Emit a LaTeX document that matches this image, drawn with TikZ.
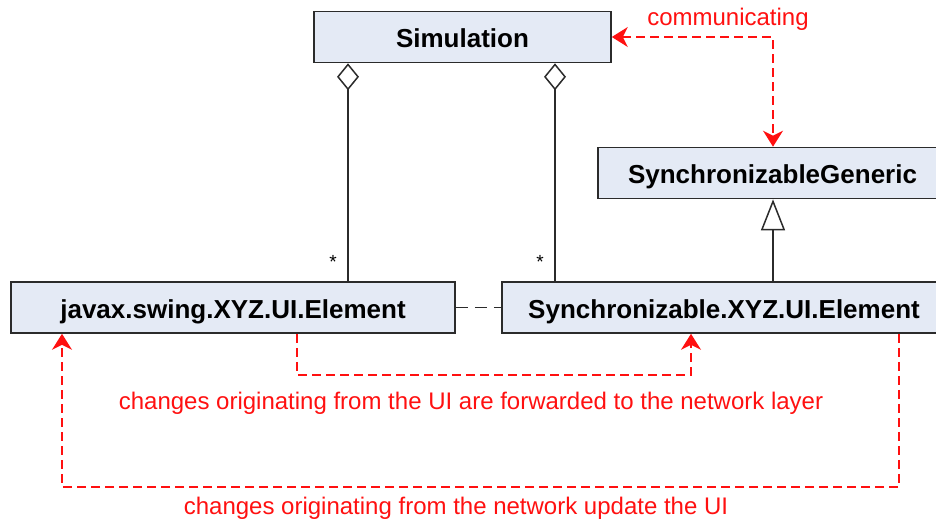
\documentclass[tikz,border=0pt]{standalone}
\usepackage{fontspec}
\setmainfont{Liberation Sans}
\usetikzlibrary{arrows.meta}

\definecolor{boxfill}{HTML}{E4EAF5}
\definecolor{boxline}{HTML}{2B2B2B}
\definecolor{flow}{HTML}{FF1010}

\begin{document}
\begin{tikzpicture}[x=1pt,y=-1pt,
  cls/.style={draw=boxline, line width=1.6pt, fill=boxfill, minimum height=51pt,
    inner sep=0pt, text height=24pt, text depth=2.4pt,
    font=\fontsize{26}{30}\selectfont\bfseries},
  assoc/.style={draw=boxline, line width=1.5pt},
  flowline/.style={draw=flow, line width=1.6pt, dash pattern=on 9pt off 5pt},
  flowtip/.style={-{Stealth[length=16pt,width=20pt,inset=5pt]}},
  bothtips/.style={{Stealth[length=16pt,width=20pt,inset=5pt]}-{Stealth[length=16pt,width=20pt,inset=5pt]}},
  note/.style={text=flow, font=\fontsize{24}{28}\selectfont},
  mult/.style={font=\fontsize{19}{20}\selectfont}
]
\useasboundingbox (0,0) rectangle (936,523);
\clip (0,0) rectangle (936,523);

% classes (the two on the right run past the page edge)
\node[cls, minimum width=297pt] (sim)   at (462.5,37)  {Simulation};
\node[cls, minimum width=349pt] (gen)   at (772.5,173) {SynchronizableGeneric};
\node[cls, minimum width=444pt] (swing) at (233,307.5) {javax.swing.XYZ.UI.Element};
\node[cls, minimum width=444pt] (sync)  at (724,307.5) {Synchronizable.XYZ.UI.Element};

% x positions of the vertical connectors
\coordinate (aggL) at (348,0);
\coordinate (aggR) at (555,0);
\coordinate (inh)  at (773,0);
\coordinate (upL)  at (297,0);
\coordinate (upR)  at (691,0);
\coordinate (dnR)  at (899,0);
\coordinate (dnL)  at (62,0);

% aggregations
\draw[assoc, -{Diamond[fill=white,length=27pt,width=22pt]}] (swing.north -| aggL) -- (sim.south -| aggL);
\draw[assoc, -{Diamond[fill=white,length=27pt,width=22pt]}] (sync.north -| aggR) -- (sim.south -| aggR);
\node[mult] (mL) at (333,262) {*};
\node[mult] (mR) at (540,262) {*};

% generalisation
\draw[assoc, -{Triangle[fill=white,length=31pt,width=24pt]}] (sync.north -| inh) -- (gen.south -| inh);

% dependency between the two element classes
\draw[assoc, dash pattern=on 12pt off 7pt] (swing.east) -- (sync.west);

% message flows
\draw[flowline, bothtips] (sim.east) -| (gen.north -| inh);
\node[note] (lcomm) at (728,19) {communicating};

\draw[flowline, flowtip] (swing.south -| upL) -- ++(0,41) -| (sync.south -| upR);
\node[note] (lup) at (471,403) {changes originating from the UI are forwarded to the network layer};

\draw[flowline, flowtip] (sync.south -| dnR) -- ++(0,153) -| (swing.south -| dnL);
\node[note] (ldown) at (456,508) {changes originating from the network update the UI};
\end{tikzpicture}
\end{document}
